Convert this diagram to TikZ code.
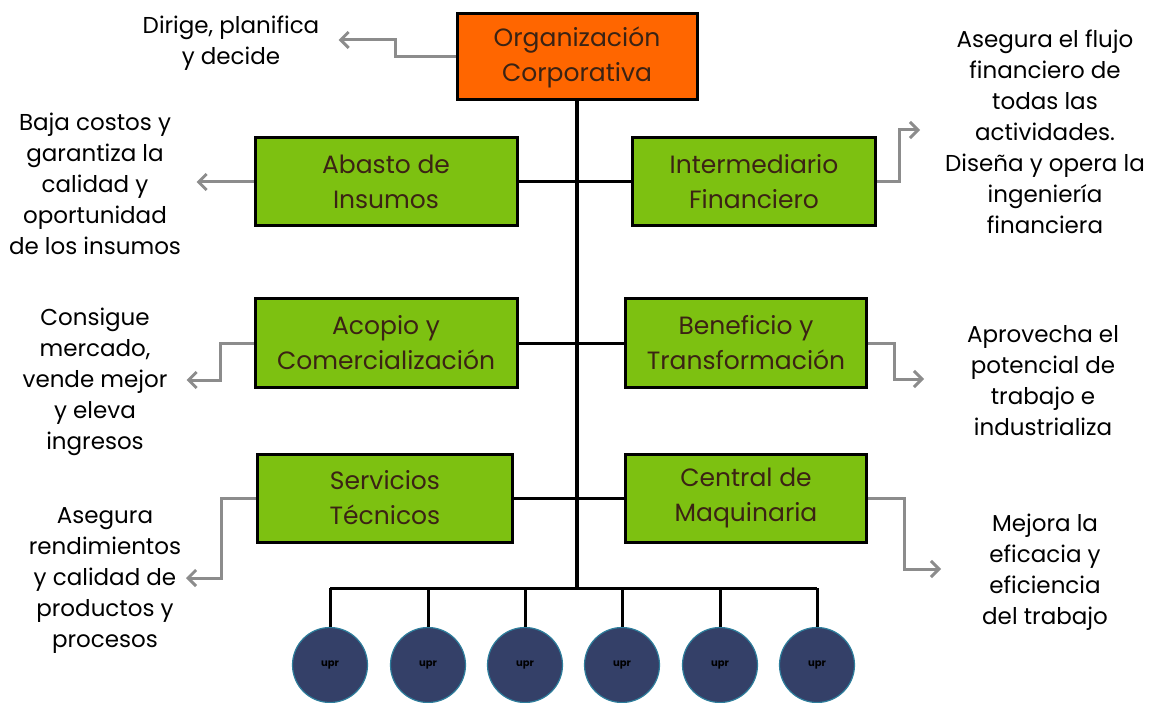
\documentclass[tikz,border=0pt]{standalone}
\usepackage{fontspec}
\setmainfont{Poppins}
\usetikzlibrary{arrows.meta}
\definecolor{naranja}{HTML}{FF6600}
\definecolor{verde}{HTML}{7DC111}
\definecolor{cafe}{HTML}{3B2314}
\definecolor{marino}{HTML}{344068}
\definecolor{borde}{HTML}{2E7E9C}
\definecolor{flecha}{HTML}{8C8C8C}

\begin{document}
\begin{tikzpicture}[x=1pt,y=-1pt,
  area/.style={draw=black,line width=3pt,fill=verde,text=cafe,align=center,
    font=\fontsize{25}{35}\selectfont,minimum height=88pt,inner sep=2pt},
  nota/.style={align=center,font=\fontsize{23}{31}\selectfont,inner sep=1pt},
  salida/.style={draw=flecha,line width=3pt,-{Straight Barb[length=8pt,width=16pt]}},
  enlace/.style={line width=3pt},
  upr/.style={circle,draw=borde,line width=1.2pt,fill=marino,minimum size=75pt,
    inner sep=0pt,font=\fontsize{10}{12}\selectfont\bfseries}]
\useasboundingbox (0,0) rectangle (1151,703);

% areas de la organizacion
\node[area,fill=naranja,minimum width=240pt,minimum height=86pt] (org) at (577,57)
  {Organización\\Corporativa};
\node[area,minimum width=262pt] (abasto) at (386,182) {Abasto de\\Insumos};
\node[area,minimum width=243pt] (inter) at (754,182) {Intermediario\\Financiero};
\node[area,minimum width=262pt] (acopio) at (386,343) {Acopio y\\Comercialización};
\node[area,minimum width=241pt] (benef) at (746,343) {Beneficio y\\Transformación};
\node[area,minimum width=255pt] (serv) at (385,498) {Servicios\\Técnicos};
\node[area,minimum width=241pt] (central) at (746,498) {Central de\\Maquinaria};

% unidades de produccion
\foreach \i/\x in {1/330,2/428,3/525,4/622,5/720,6/817}
  \node[upr] (u\i) at (\x,665) {upr};
\coordinate (bus) at (577,588);

% tronco y ramas
\draw[line width=4pt] (org.south) -- (bus);
\draw[enlace] (abasto.east) -- (inter.west);
\draw[enlace] (acopio.east) -- (benef.west);
\draw[enlace] (serv.east) -- (central.west);
\draw[enlace] (u1.north |- bus) -- (u6.north |- bus);
\foreach \i in {1,...,6} \draw[enlace] (u\i.north |- bus) -- (u\i.north);

% funciones
\node[nota] (dirige) at (231,43) {Dirige, planifica\\y decide};
\node[nota] (baja) at (95,184) {Baja costos y\\garantiza la\\calidad y\\oportunidad\\de los insumos};
\node[nota] (asegura) at (1045,132) {Asegura el flujo\\financiero de\\todas las\\actividades.\\Diseña y opera la\\ingeniería\\financiera};
\node[nota] (consigue) at (95,382) {Consigue\\mercado,\\vende mejor\\y eleva\\ingresos};
\node[nota] (aprovecha) at (1043,381) {Aprovecha el\\potencial de\\trabajo e\\industrializa};
\node[nota] (rinde) at (105,581) {Asegura\\rendimientos\\y calidad de\\productos y\\procesos};
\node[nota] (mejora) at (1045,572) {Mejora la\\eficacia y\\eficiencia\\del trabajo};

\draw[salida] (org.west) -- ++(-60,0) -- ++(0,-17) -- ++(-57,0);
\draw[salida] (abasto.west) -- ++(-57,0);
\draw[salida] (inter.east) -- ++(22,0) -- ++(0,-52) -- ++(21,0);
\draw[salida] (acopio.west) -- ++(-33,0) -- ++(0,37) -- ++(-34,0);
\draw[salida] (benef.east) -- ++(26,0) -- ++(0,36) -- ++(30,0);
\draw[salida] (serv.west) -- ++(-35,0) -- ++(0,80) -- ++(-35,0);
\draw[salida] (central.east) -- ++(36,0) -- ++(0,71) -- ++(37,0);
\end{tikzpicture}
\end{document}
